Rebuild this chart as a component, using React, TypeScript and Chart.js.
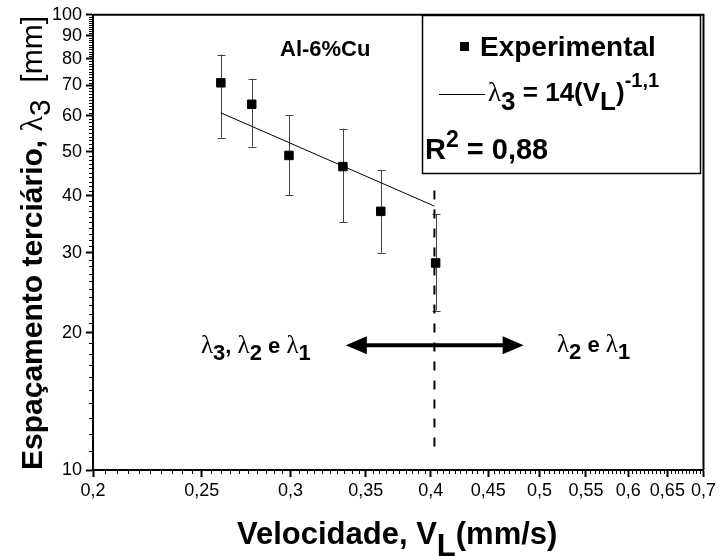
import React, { useEffect, useRef } from 'react';
import { Chart, registerables } from 'chart.js';

Chart.register(...registerables);

// Experimental points: solidification velocity (mm/s) vs tertiary spacing (mm)
const velocity = [0.26, 0.277, 0.299, 0.334, 0.361, 0.404];
const spacing = [70.9, 63.6, 49.1, 46.4, 37.0, 28.5];
const spacingLow = [53.7, 51.3, 40.1, 35.0, 30.0, 22.4];
const spacingHigh = [81.8, 72.4, 60.1, 56.2, 45.6, 36.5];

// Power-law fit λ3 = 14(VL)^-1,1 (straight on log-log axes)
const fitVelocity = [0.26, 0.403];
const fitSpacing = [60.9, 38.0];

// Transition limit (dashed vertical line)
const limitVelocity = [0.403, 0.403];
const limitSpacing = [41.1, 10.8];

// Double arrow separating the two regimes
const arrowVelocity = [0.336, 0.484];
const arrowSpacing = 18.8;

// Axis tick labels
const xTickValues = [0.2, 0.25, 0.3, 0.35, 0.4, 0.45, 0.5, 0.55, 0.6, 0.65, 0.7];
const yTickValues = [10, 20, 30, 40, 50, 60, 70, 80, 90, 100];

const SANS = '"Liberation Sans", Arial, sans-serif';
const SERIF = '"Liberation Serif", "DejaVu Serif", serif';

type Seg = { t: string; f: string; dy?: number };

function richWidth(ctx: CanvasRenderingContext2D, segs: Seg[]) {
  let w = 0;
  for (const s of segs) {
    ctx.font = s.f;
    w += ctx.measureText(s.t).width;
  }
  return w;
}

function drawRich(ctx: CanvasRenderingContext2D, x: number, y: number, segs: Seg[]) {
  let cx = x;
  for (const s of segs) {
    ctx.font = s.f;
    ctx.fillText(s.t, cx, y + (s.dy || 0));
    cx += ctx.measureText(s.t).width;
  }
}

const minorTicks = {
  id: 'minorTicks',
  afterDraw(chart: any) {
    const { ctx } = chart;
    const xs = chart.scales.x;
    const ys = chart.scales.y;
    const area = chart.chartArea;
    ctx.save();
    ctx.strokeStyle = '#000';
    ctx.lineWidth = 1;
    ctx.beginPath();
    for (let i = 1; i < 100; i++) {
      const v = 0.2 + i * 0.005;
      if (i % 10 === 0) continue;
      const px = Math.round(xs.getPixelForValue(v)) + 0.5;
      ctx.moveTo(px, area.bottom);
      ctx.lineTo(px, area.bottom + 4);
    }
    for (let v = 11; v < 100; v++) {
      if (v % 10 === 0) continue;
      const py = Math.round(ys.getPixelForValue(v)) + 0.5;
      ctx.moveTo(area.left, py);
      ctx.lineTo(area.left - 4, py);
    }
    ctx.stroke();
    // frame top and right
    ctx.lineWidth = 2;
    ctx.beginPath();
    ctx.moveTo(area.left, area.top);
    ctx.lineTo(area.right, area.top);
    ctx.lineTo(area.right, area.bottom);
    ctx.stroke();
    ctx.restore();
  },
};

const errorBars = {
  id: 'errorBars',
  beforeDatasetsDraw(chart: any) {
    const { ctx } = chart;
    const xs = chart.scales.x;
    const ys = chart.scales.y;
    ctx.save();
    ctx.strokeStyle = '#444';
    ctx.lineWidth = 1;
    ctx.beginPath();
    velocity.forEach((v, i) => {
      const px = Math.round(xs.getPixelForValue(v)) + 0.5;
      const y1 = ys.getPixelForValue(spacingLow[i]);
      const y2 = ys.getPixelForValue(spacingHigh[i]);
      ctx.moveTo(px, y1);
      ctx.lineTo(px, y2);
      ctx.moveTo(px - 4, Math.round(y1) + 0.5);
      ctx.lineTo(px + 4, Math.round(y1) + 0.5);
      ctx.moveTo(px - 4, Math.round(y2) + 0.5);
      ctx.lineTo(px + 4, Math.round(y2) + 0.5);
    });
    ctx.stroke();
    ctx.restore();
  },
};

const annotations = {
  id: 'annotations',
  afterDraw(chart: any) {
    const { ctx } = chart;
    const xs = chart.scales.x;
    const ys = chart.scales.y;
    ctx.save();
    ctx.fillStyle = '#000';
    ctx.strokeStyle = '#000';
    ctx.textBaseline = 'alphabetic';
    ctx.textAlign = 'left';

    // double arrow
    const ax1 = xs.getPixelForValue(arrowVelocity[0]);
    const ax2 = xs.getPixelForValue(arrowVelocity[1]);
    const ay = ys.getPixelForValue(arrowSpacing);
    const head = 21;
    const half = 9;
    ctx.lineWidth = 4;
    ctx.beginPath();
    ctx.moveTo(ax1 + head - 2, ay);
    ctx.lineTo(ax2 - head + 2, ay);
    ctx.stroke();
    ctx.beginPath();
    ctx.moveTo(ax1, ay);
    ctx.lineTo(ax1 + head, ay - half);
    ctx.lineTo(ax1 + head, ay + half);
    ctx.closePath();
    ctx.moveTo(ax2, ay);
    ctx.lineTo(ax2 - head, ay - half);
    ctx.lineTo(ax2 - head, ay + half);
    ctx.closePath();
    ctx.fill();

    const B = (s: number) => `bold ${s}px ${SANS}`;
    const R = (s: number) => `${s}px ${SANS}`;
    const L = (s: number) => `${s}px ${SERIF}`;

    // regime labels
    drawRich(ctx, 201, 353, [
      { t: 'λ', f: L(25) },
      { t: '3', f: B(22), dy: 7 },
      { t: ', ', f: B(22) },
      { t: 'λ', f: L(25) },
      { t: '2', f: B(22), dy: 7 },
      { t: ' e ', f: B(22) },
      { t: 'λ', f: L(25) },
      { t: '1', f: B(22), dy: 7 },
    ]);
    drawRich(ctx, 557, 352, [
      { t: 'λ', f: L(25) },
      { t: '2', f: B(22), dy: 7 },
      { t: ' e ', f: B(22) },
      { t: 'λ', f: L(25) },
      { t: '1', f: B(22), dy: 7 },
    ]);

    // alloy label
    drawRich(ctx, 280, 56, [{ t: 'Al-6%Cu', f: B(22) }]);

    // legend box
    ctx.lineWidth = 1.5;
    ctx.strokeRect(422.5, 15.5, 278, 158);
    ctx.fillRect(460, 42, 9, 9);
    drawRich(ctx, 480, 56, [{ t: 'Experimental', f: B(28) }]);
    ctx.lineWidth = 1;
    ctx.beginPath();
    ctx.moveTo(439, 94.5);
    ctx.lineTo(485, 94.5);
    ctx.stroke();
    drawRich(ctx, 488, 101, [
      { t: 'λ', f: L(27) },
      { t: '3', f: B(26), dy: 9 },
      { t: ' = 14(V', f: B(26) },
      { t: 'L', f: B(26), dy: 9 },
      { t: ')', f: B(26) },
      { t: '-1,1', f: B(20), dy: -14 },
    ]);
    drawRich(ctx, 425, 159, [
      { t: 'R', f: B(29) },
      { t: '2', f: B(23), dy: -12 },
      { t: ' = 0,88', f: B(29) },
    ]);

    // x axis title
    const xt: Seg[] = [
      { t: 'Velocidade, V', f: B(31) },
      { t: 'L', f: B(31), dy: 12 },
      { t: '(mm/s)', f: B(31) },
    ];
    drawRich(ctx, 237, 544, xt);

    // y axis title (rotated)
    const yt: Seg[] = [
      { t: 'Espaçamento terciário, ', f: B(30) },
      { t: 'λ', f: L(32) },
      { t: '3', f: R(30), dy: 8 },
      { t: '  [mm]', f: R(30) },
    ];
    const w = richWidth(ctx, yt);
    ctx.translate(42, 243);
    ctx.rotate(-Math.PI / 2);
    drawRich(ctx, -w / 2, 0, yt);
    ctx.restore();
  },
};

function fmt(v: number) {
  return String(Number(v.toFixed(2))).replace('.', ',');
}

export default function App() {
  const ref = useRef<HTMLCanvasElement>(null);
  useEffect(() => {
    const canvas = ref.current;
    if (!canvas) return;
    const chart = new Chart(canvas, {
      type: 'scatter',
      data: {
        datasets: [
          {
            label: 'Experimental',
            data: velocity.map((v, i) => ({ x: v, y: spacing[i] })),
            pointStyle: 'rect',
            pointRadius: 6,
            pointBorderWidth: 1,
            backgroundColor: '#000',
            borderColor: '#000',
            showLine: false,
          },
          {
            type: 'line',
            label: 'fit',
            data: fitVelocity.map((v, i) => ({ x: v, y: fitSpacing[i] })),
            borderColor: '#000',
            borderWidth: 1,
            pointRadius: 0,
            fill: false,
          },
          {
            type: 'line',
            label: 'limit',
            data: limitVelocity.map((v, i) => ({ x: v, y: limitSpacing[i] })),
            borderColor: '#000',
            borderWidth: 2,
            borderDash: [9, 10],
            pointRadius: 0,
            fill: false,
          },
        ],
      } as any,
      plugins: [errorBars, minorTicks, annotations],
      options: {
        animation: false,
        responsive: false,
        maintainAspectRatio: false,
        layout: { padding: { left: 0, top: 14, right: 14, bottom: 0 } },
        plugins: { legend: { display: false }, tooltip: { enabled: false } },
        scales: {
          x: {
            type: 'logarithmic',
            min: 0.2,
            max: 0.7,
            afterBuildTicks: (s: any) => {
              s.ticks = xTickValues.map((v) => ({ value: v, major: true }));
            },
            afterFit: (s: any) => {
              s.height = 86;
            },
            ticks: {
              autoSkip: false,
              maxRotation: 0,
              padding: 3,
              color: '#000',
              font: { family: SANS, size: 18 },
              callback: (v: any) => fmt(Number(v)),
            },
            grid: {
              display: true,
              drawOnChartArea: false,
              drawTicks: true,
              tickLength: 7,
              tickWidth: 2,
              tickColor: '#000',
            },
            border: { display: true, color: '#000', width: 2 },
          },
          y: {
            type: 'logarithmic',
            min: 10,
            max: 100,
            afterBuildTicks: (s: any) => {
              s.ticks = yTickValues.map((v) => ({ value: v, major: true }));
            },
            afterFit: (s: any) => {
              s.width = 93;
            },
            ticks: {
              autoSkip: false,
              padding: 4,
              color: '#000',
              font: { family: SANS, size: 18 },
              callback: (v: any) => String(Number(v)),
            },
            grid: {
              display: true,
              drawOnChartArea: false,
              drawTicks: true,
              tickLength: 7,
              tickWidth: 2,
              tickColor: '#000',
            },
            border: { display: true, color: '#000', width: 2 },
          },
        },
      } as any,
    });
    return () => chart.destroy();
  }, []);
  return (
    <div style={{ position: 'absolute', left: 0, top: 0, width: 719, height: 556, background: '#fff' }}>
      <canvas ref={ref} width={719} height={556} style={{ display: 'block' }} />
    </div>
  );
}
